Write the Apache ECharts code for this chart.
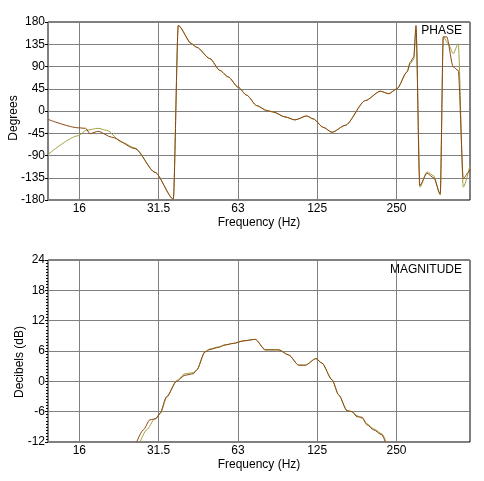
<!DOCTYPE html>
<html>
<head>
<meta charset="utf-8">
<script src="https://cdn.jsdelivr.net/npm/echarts@6/dist/echarts.min.js"></script>
<style>
  html, body { margin: 0; padding: 0; background: #fff; }
  #chart { width: 484px; height: 481px; }
</style>
</head>
<body>
<div id="chart"></div>
<script>
// frequency axis: octaves above 16 Hz, and the labels printed on them
const freqBase = 16;
const freqMin = 12.17;
const freqMax = 486.7;
const freqLabels = ['16', '31.5', '63', '125', '250'];

// phase, degrees  [Hz, deg]
const phaseBrown = [
  [12.17, -17], [15.86, -34], [16.92, -35], [17.55, -46], [18.86, -41],
  [21.24, -53], [26.03, -76], [31.0, -124], [36.4, -178], [38.0, 173],
  [42.7, 136], [44.6, 129], [50.1, 106], [54.7, 82], [58.8, 69],
  [64.2, 48], [69.1, 32], [75.4, 11], [82.3, 1], [87.2, -2],
  [96.6, -12], [105.4, -18], [116.7, -10], [123.7, -16], [135.0, -33],
  [145.7, -43], [163.6, -29], [195.0, 21], [222.3, 40], [239.2, 35],
  [257.1, 45], [280.7, 79], [288.8, 99], [297.6, 109], [303.6, 173],
  [313.5, -151], [334.2, -126], [354.4, -135], [375.3, -168], [385.3, 150],
  [396.9, 150], [420.4, 89], [439.2, 82], [459.0, -137], [479.7, -124],
  [486.7, -118]
];
const phaseOlive = [
  [12.17, -88], [15.86, -50], [17.0, -39], [18.86, -35], [20.3, -39],
  [23.2, -63], [26.03, -75], [31.0, -124], [36.4, -178], [38.0, 173],
  [42.7, 136], [44.6, 129], [50.1, 106], [54.7, 82], [58.8, 69],
  [64.2, 48], [69.1, 32], [75.4, 11], [82.3, 1], [87.2, -2],
  [96.6, -12], [105.4, -18], [116.7, -10], [123.7, -16], [135.0, -33],
  [145.7, -43], [163.6, -29], [195.0, 21], [222.3, 40], [239.2, 35],
  [257.1, 45], [280.7, 79], [288.8, 96], [297.6, 104], [303.6, 165],
  [314.4, -154], [334.2, -123], [354.4, -131], [375.3, -170], [385.3, 150],
  [402.5, 136], [420.4, 116], [439.2, 136], [459.0, -154], [486.7, -110]
];

// magnitude, dB  [Hz, dB]
const magBrown = [
  [26.42, -12], [27.99, -9.6], [29.67, -7.6], [31.27, -7.4], [32.4, -6.3],
  [34.33, -3.0], [37.48, 0], [40.3, 1.2], [43.3, 1.5], [44.6, 2.2],
  [48.0, 5.8], [50.1, 6.3], [53.9, 6.7], [57.2, 7.2], [61.5, 7.5],
  [67.1, 8.0], [74.5, 8.3], [81.3, 6.2], [91.4, 6.2], [99.8, 5.2],
  [108.9, 3.2], [115.4, 3.2], [126.6, 4.5], [133.5, 3.6], [145.7, 0.3],
  [154.5, -2.7], [166.1, -5.8], [173.5, -6.0], [181.3, -7.0], [189.4, -7.1],
  [197.8, -8.6], [209.7, -9.6], [225.5, -10.6], [232.1, -12]
];
const magOlive = [
  [27.2, -12], [28.8, -9.6], [31.0, -7.4], [32.4, -6.5],
  [34.33, -3.2], [37.48, 0.2], [40.3, 1.5], [43.3, 1.7], [44.6, 2.2],
  [48.0, 5.9], [50.1, 6.4], [53.9, 6.8], [57.2, 7.2], [61.5, 7.5],
  [67.1, 8.0], [74.5, 8.3], [81.3, 6.3], [91.4, 6.3], [99.8, 5.2],
  [108.9, 3.2], [115.4, 3.2], [126.6, 4.5], [133.5, 3.6], [145.7, 0.3],
  [154.5, -2.7], [166.1, -5.8], [173.5, -6.0], [181.3, -6.8], [189.4, -7.3],
  [197.8, -8.4], [209.7, -9.4], [225.5, -10.4], [234.0, -12]
];

const font = 'Liberation Sans, Arial, sans-serif';
const brown = '#8b4513';
const olive = '#a0a040';

const oct = f => Math.log2(f / freqBase);
const toOct = data => data.map(d => [oct(d[0]), d[1]]);

function xAxis(idx) {
  return {
    type: 'value', gridIndex: idx,
    min: oct(freqMin), max: oct(freqMax), splitNumber: 5,
    name: 'Frequency (Hz)', nameLocation: 'middle', nameGap: 17,
    nameMoveOverlap: false,
    nameTextStyle: { color: '#000', fontSize: 12, fontFamily: font },
    axisLine: { show: false, onZero: false },
    axisTick: { show: false },
    axisLabel: {
      color: '#000', fontSize: 12, fontFamily: font, margin: 3,
      showMinLabel: false, showMaxLabel: false,
      formatter: v => {
        const i = Math.round(v);
        return Math.abs(v - i) < 1e-6 && freqLabels[i] ? freqLabels[i] : '';
      }
    },
    splitLine: { show: true, lineStyle: { color: '#808080', width: 1 } }
  };
}

function yAxis(idx, name, min, max, step, gap, shift, minor) {
  return {
    type: 'value', gridIndex: idx, min: min, max: max, interval: step,
    name: name, nameLocation: 'middle', nameGap: gap, nameMoveOverlap: false,
    nameTextStyle: { color: '#000', fontSize: 12, fontFamily: font, padding: [0, shift, 0, 0] },
    axisLine: { show: false, onZero: false },
    axisTick: { show: true, length: 3, lineStyle: { color: '#000' } },
    minorTick: { show: minor, splitNumber: 10, length: 2, lineStyle: { color: '#000' } },
    axisLabel: { color: '#000', fontSize: 12, fontFamily: font, margin: 3 },
    splitLine: { show: true, lineStyle: { color: '#808080', width: 1 } }
  };
}

function line(data, color, xi) {
  return {
    type: 'line', data: toOct(data), xAxisIndex: xi, yAxisIndex: xi,
    showSymbol: false, smooth: 0.25, smoothMonotone: 'x', clip: true,
    lineStyle: { color: color, width: 1 }
  };
}

const chart = echarts.init(document.getElementById('chart'));
chart.setOption({
  animation: false,
  backgroundColor: '#fff',
  title: [
    { text: 'PHASE', right: 17, top: 20,
      textStyle: { fontSize: 12, fontWeight: 'normal', color: '#000', fontFamily: font } },
    { text: 'MAGNITUDE', right: 17, top: 259,
      textStyle: { fontSize: 12, fontWeight: 'normal', color: '#000', fontFamily: font } }
  ],
  grid: [
    { left: 48, right: 14, top: 22, height: 178, outerBoundsMode: 'none',
      show: true, borderColor: '#000', borderWidth: 1 },
    { left: 48, right: 14, top: 260, height: 182, outerBoundsMode: 'none',
      show: true, borderColor: '#000', borderWidth: 1 }
  ],
  xAxis: [xAxis(0), xAxis(1)],
  yAxis: [
    yAxis(0, 'Degrees', -180, 180, 45, 28, 14, false),
    yAxis(1, 'Decibels (dB)', -12, 24, 6, 22, 22, true)
  ],
  series: [
    line(phaseOlive, olive, 0),
    line(phaseBrown, brown, 0),
    line(magOlive, olive, 1),
    line(magBrown, brown, 1)
  ]
});
</script>
</body>
</html>
